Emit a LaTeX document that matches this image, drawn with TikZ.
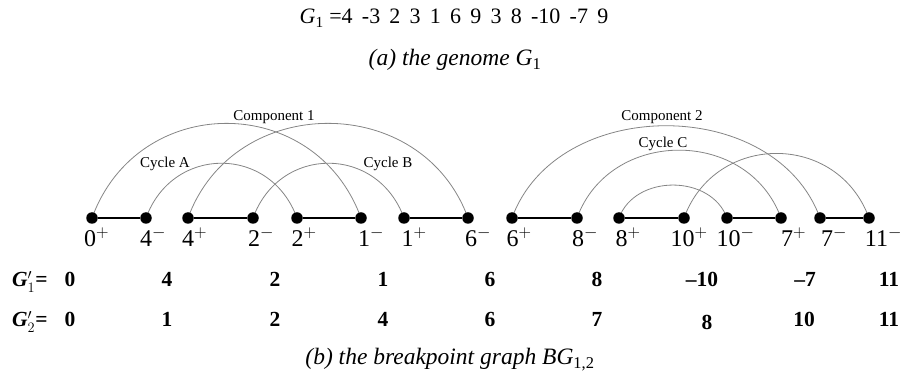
\documentclass[tikz,border=0pt]{standalone}
\usepackage{fontspec}
\setmainfont{Liberation Serif}
\usetikzlibrary{backgrounds}
\newcommand{\gsp}{\hspace{0.42em}}
\begin{document}
\begin{tikzpicture}[x=1pt,y=-1pt,
  vtx/.style={circle,fill=black,inner sep=0pt,minimum size=11.5pt},
  pairedge/.style={line width=2.8pt},
  arcline/.style={draw=black!48,line width=0.8pt},
  vlab/.style={anchor=base,font=\fontsize{24}{24}\selectfont,inner sep=0pt},
  rowtxt/.style={anchor=base,font=\fontsize{21.5}{21.5}\selectfont\bfseries,inner sep=0pt},
  smalllab/.style={anchor=base,font=\fontsize{15}{15}\selectfont,inner sep=0pt},
  captxt/.style={anchor=base,font=\fontsize{23.5}{23.5}\selectfont\itshape,inner sep=0pt},
  titletxt/.style={anchor=base,font=\fontsize{22}{22}\selectfont,inner sep=0pt}]
\useasboundingbox (0,0) rectangle (906,387);

% title and captions
\node[titletxt] (title) at (454,24) {\textit{G}\textsubscript{1} =4\gsp-3\gsp2\gsp3\gsp1\gsp6\gsp9\gsp3\gsp8\gsp-10\gsp-7\gsp9};
\node[captxt] (capa) at (455,66) {(a) the genome G\textsubscript{\upshape 1}};
\node[captxt] (capb) at (450,365) {(b) the breakpoint graph BG\textsubscript{\upshape 1,2}};

% vertices
\foreach \n/\x in {v0p/92,v4m/146,v4p/188,v2m/253,v2p/297,v1m/361,v1p/404,v6m/468,
                   v6p/512,v8m/577,v8p/619,v10p/684,v10m/727,v7p/781,v7m/820,v11m/869}
  \node[vtx] (\n) at (\x,218) {};

% black edges
\draw[pairedge] (v0p) -- (v4m);
\draw[pairedge] (v4p) -- (v2m);
\draw[pairedge] (v2p) -- (v1m);
\draw[pairedge] (v1p) -- (v6m);
\draw[pairedge] (v6p) -- (v8m);
\draw[pairedge] (v8p) -- (v10p);
\draw[pairedge] (v10m) -- (v7p);
\draw[pairedge] (v7m) -- (v11m);

% gray arcs
\begin{scope}[on background layer]
\draw[arcline] (v0p.center) to[out=70,in=110,looseness=1.28] (v1m.center);
\draw[arcline] (v4p.center) to[out=70,in=110,looseness=1.23] (v6m.center);
\draw[arcline] (v4m.center) to[out=70,in=110,looseness=1.32] (v2p.center);
\draw[arcline] (v2m.center) to[out=70,in=110,looseness=1.32] (v1p.center);
\draw[arcline] (v6p.center) to[out=70,in=110,looseness=1.09] (v7m.center);
\draw[arcline] (v8m.center) to[out=70,in=110,looseness=1.21] (v7p.center);
\draw[arcline] (v8p.center) to[out=70,in=110,looseness=1.11] (v10m.center);
\draw[arcline] (v10p.center) to[out=70,in=110,looseness=1.27] (v11m.center);
\end{scope}

% arc labels
\node[smalllab] (comp1) at (274,121) {Component 1};
\node[smalllab] (cycA) at (165,168) {Cycle A};
\node[smalllab] (cycB) at (388,168) {Cycle B};
\node[smalllab] (comp2) at (662,121) {Component 2};
\node[smalllab] (cycC) at (663,148) {Cycle C};

% vertex labels
\foreach \n/\x/\d/\s in {l0p/90/0/+,l4m/146/4/-,l4p/188/4/+,l2m/254/2/-,l2p/297.5/2/+,
    l1m/364/1/-,l1p/407.5/1/+,l6m/471/6/-,l6p/512.5/6/+,l8m/578/8/-,l8p/621.5/8/+,
    l10p/682.5/10/+,l10m/728.5/10/-,l7p/787/7/+,l7m/827/7/-,l11m/876.5/11/-}
  \node[vlab] (\n) at (\x,247) {\d\rlap{$^{\s}$}};

% permutation rows
\node[rowtxt,anchor=base west] (g1lab) at (12,287) {\textit{G}$^{\prime}_{1}$=};
\node[rowtxt,anchor=base west] (g2lab) at (12,327) {\textit{G}$^{\prime}_{2}$=};
\foreach \n/\x/\t in {a0/70/0,a1/167/4,a2/275/2,a3/383/1,a4/490/6,a5/597/8,a6/702/--10,a7/805/--7,a8/889/11}
  \node[rowtxt] (\n) at (\x,287) {\t};
\foreach \n/\x/\y/\t in {b0/70/327/0,b1/167/327/1,b2/275/327/2,b3/383/327/4,b4/490/327/6,b5/597/327/7,b6/707/330/8,b7/804/327/10,b8/889/327/11}
  \node[rowtxt] (\n) at (\x,\y) {\t};
\end{tikzpicture}
\end{document}
